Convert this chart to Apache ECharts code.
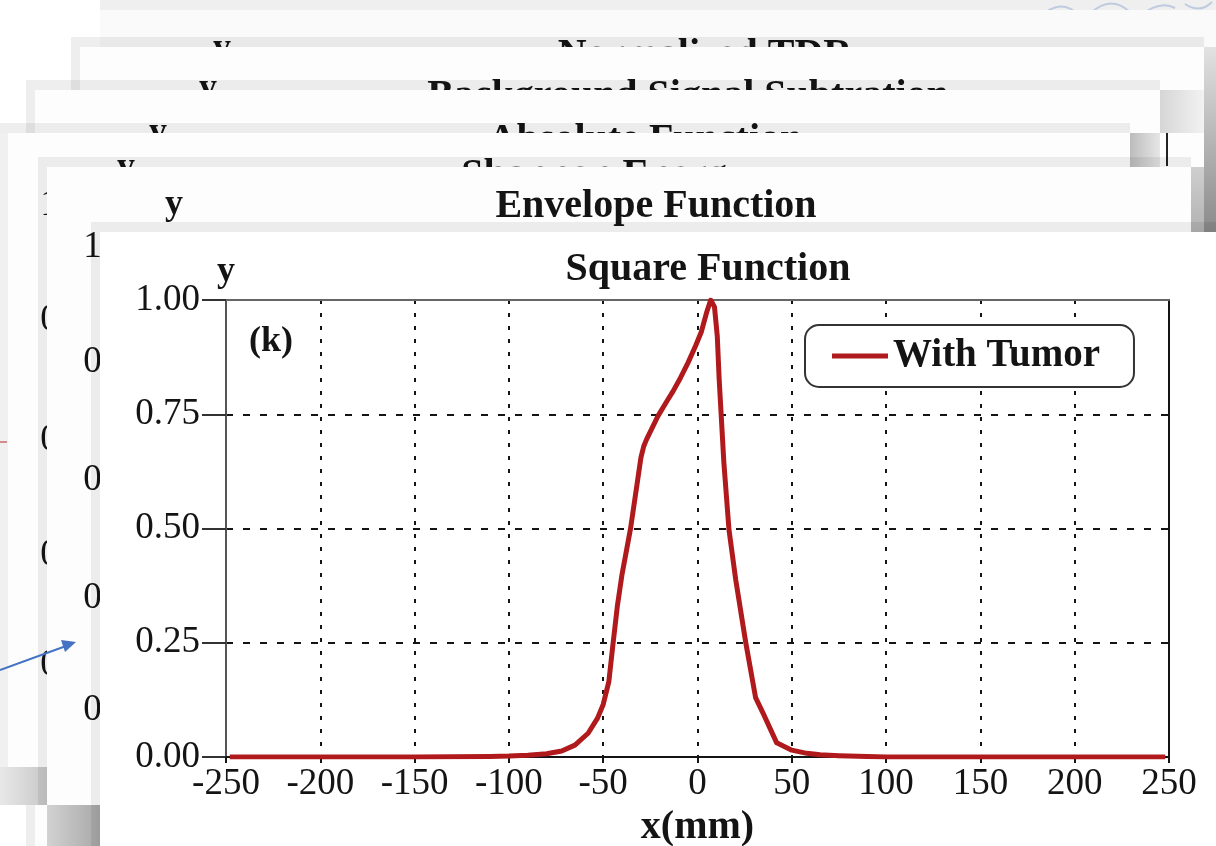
<!DOCTYPE html>
<html>
<head>
<meta charset="utf-8">
<script src="https://cdn.jsdelivr.net/npm/echarts@6/dist/echarts.min.js"></script>
<style>
  html, body { margin: 0; padding: 0; background: #ffffff; }
  #chart { width: 1216px; height: 846px; }
</style>
</head>
<body>
<div id="chart"></div>
<script>
// ---- data ----
const chartTitle = 'Square Function';
const panelTag = '(k)';
const seriesName = 'With Tumor';
const xAxisName = 'x(mm)';
const yAxisName = 'y';
const xTickLabels = ['-250', '-200', '-150', '-100', '-50', '0', '50', '100', '150', '200', '250'];
const yTickLabels = ['0.00', '0.25', '0.50', '0.75', '1.00'];

// position along the scan (mm)
const xValues = [
  -248, -200, -150, -110, -100, -90, -80, -72, -65, -58, -53, -50, -47, -45,
  -42.5, -40, -35.5, -31.7, -30, -28.5, -27, -21, -16, -13, -9, -5, -1, 2, 5,
  7, 9, 10.5, 11.5, 14, 16.7, 20.3, 25.6, 30.8, 35, 42, 50, 58, 65, 75, 90,
  100, 150, 200, 248
];
// squared, normalised response
const yValues = [
  0, 0, 0, 0.001, 0.002, 0.004, 0.007, 0.013, 0.026, 0.052, 0.085, 0.115, 0.165, 0.24,
  0.33, 0.4, 0.5, 0.607, 0.655, 0.68, 0.695, 0.746, 0.78, 0.8, 0.83, 0.863, 0.9, 0.93, 0.975,
  1.0, 0.985, 0.92, 0.826, 0.643, 0.497, 0.387, 0.25, 0.13, 0.094, 0.031, 0.015, 0.008, 0.005, 0.003, 0.001,
  0, 0, 0, 0
];

// titles of the slides stacked behind the plot
const stackedTitles = ['Normalized TDR', 'Background Signal Subtration', 'Absolute Function', 'Shannon Energy', 'Envelope Function'];
const stackedTickLabels = ['1.00', '0.75', '0.50', '0.25', '0.00'];

// ---- styling / layout ----
const SERIF = "'Liberation Serif', 'Times New Roman', serif";
const INK = '#141414';
const RED = '#b01a1c';
const SHADE = 'rgba(0,0,0,0.065)';

// stacked slide frames (back to front)
const slides = [
  { x: 100, y: 10,  r: 1216, b: 846, fill: '#fafafa', tx: 705, ty: 56,  yx: 222, yy: 49 },
  { x: 80,  y: 47,  r: 1204, b: 846, fill: '#fdfdfd', tx: 688, ty: 97,  yx: 208, yy: 89 },
  { x: 35,  y: 90,  r: 1160, b: 846, fill: '#fdfdfd', tx: 645, ty: 141, yx: 158, yy: 133 },
  { x: 8,   y: 133, r: 1130, b: 767, fill: '#fdfdfd', tx: 604, ty: 176, yx: 126, yy: 168,
    labelRight: 105, labelYs: [205, 320, 440, 555, 665] },
  { x: 47,  y: 167, r: 1191, b: 805, fill: '#fdfdfd', tx: 656, ty: 207, yx: 174, yy: 205,
    labelRight: 148, labelYs: [247, 362, 480, 598, 710] }
];

const elements = [];
let zc = 1;
function add(el) { el.z = zc; zc += 0.05; elements.push(el); }
function rect(x, y, w, h, fill) {
  add({ type: 'rect', shape: { x: x, y: y, width: w, height: h }, style: { fill: fill }, silent: true });
}
function grad(x, y, w, h, horizontal, c1, c2) {
  rect(x, y, w, h, {
    type: 'linear', x: 0, y: 0, x2: horizontal ? 1 : 0, y2: horizontal ? 0 : 1,
    colorStops: [{ offset: 0, color: c1 }, { offset: 1, color: c2 }]
  });
}
function text(str, x, y, font, align, fill) {
  add({ type: 'text', x: x, y: y, silent: true,
        style: { text: str, font: font, fill: fill || INK, align: align || 'center', verticalAlign: 'middle' } });
}
function bands(p) {
  rect(p.x - 9, p.y - 10, p.r - p.x + 9, 10, SHADE);
  rect(p.x - 9, p.y, 9, p.b - p.y, SHADE);
}

// strip above the back slide, with a faint stamp
rect(100, 0, 1116, 10, '#efefef');
[[1040, 18, 1060, -4, 1080, 16], [1090, 14, 1110, -6, 1130, 12], [1140, 16, 1160, 0, 1175, 8], [1185, 4, 1200, 14, 1212, 2]]
  .forEach(function (c) {
    add({ type: 'bezierCurve', silent: true,
          shape: { x1: c[0], y1: c[1], cpx1: c[2], cpy1: c[3], x2: c[4], y2: c[5] },
          style: { stroke: 'rgba(80,120,190,0.3)', lineWidth: 2, fill: null } });
  });

slides.forEach(function (p, i) {
  if (i > 0) bands(p);
  rect(p.x, p.y, p.r - p.x, p.b - p.y, p.fill);
  text(stackedTitles[i], p.tx, p.ty, 'bold 40px ' + SERIF, 'center');
  text('y', p.yx, p.yy, 'bold 36px ' + SERIF, 'center');
  if (p.labelYs) {
    p.labelYs.forEach(function (ly, k) {
      text(stackedTickLabels[k], p.labelRight, ly, '37px ' + SERIF, 'right');
    });
  }
  if (i === 1) {
    // shadow column on the right of the second slide, and its plot frame corner
    grad(1204, 47, 12, 185, false, '#e2e2e2', '#8a8a8a');
    add({ type: 'polyline', silent: true, shape: { points: [[1160, 128], [1167, 128], [1167, 166]] },
          style: { stroke: '#222', lineWidth: 2, fill: null } });
  }
  if (i === 2) {
    grad(1160, 90, 44, 43, true, '#d6d6d6', '#f2f2f2');
  }
  if (i === 3) {
    grad(1130, 133, 30, 34, true, '#bcbcbc', '#e6e6e6');
    grad(0, 767, 47, 38, true, '#e8e8e8', '#c8c8c8');
    rect(0, 133, 8, 634, '#f0f0f0');
    add({ type: 'line', silent: true, shape: { x1: 0, y1: 442, x2: 7, y2: 442 },
          style: { stroke: 'rgba(176,40,40,0.5)', lineWidth: 2 } });
  }
  if (i === 4) {
    grad(1191, 167, 13, 65, false, '#cfcfcf', '#b2b2b2');
    grad(47, 805, 53, 41, true, '#d2d2d2', '#a8a8a8');
  }
});

// front slide that carries the plot
const front = { x: 100, y: 232, r: 1216, b: 846 };
bands(front);
rect(front.x, front.y, front.r - front.x, front.b - front.y, '#ffffff');

// pointer arrow
add({ type: 'line', silent: true, shape: { x1: 0, y1: 670, x2: 66, y2: 646 },
      style: { stroke: '#4472c4', lineWidth: 2 } });
add({ type: 'polygon', silent: true, shape: { points: [[76, 642], [61, 640], [65, 652]] },
      style: { fill: '#4472c4' } });

// panel tag inside the plot
text(panelTag, 271, 342, 'bold 36px ' + SERIF, 'center');

const chart = echarts.init(document.getElementById('chart'), null, { renderer: 'canvas' });

chart.setOption({
  backgroundColor: '#ffffff',
  animation: false,
  graphic: { elements: elements },
  title: {
    text: chartTitle,
    left: 703,
    top: 245,
    textAlign: 'center',
    z: 60,
    textStyle: { fontFamily: SERIF, fontWeight: 'bold', fontSize: 40, color: INK }
  },
  legend: {
    data: [{ name: seriesName, icon: 'rect' }],
    left: 805,
    top: 325,
    z: 60,
    itemWidth: 56,
    itemHeight: 5,
    padding: [11, 34, 11, 27],
    backgroundColor: '#ffffff',
    borderColor: '#333333',
    borderWidth: 2,
    borderRadius: 14,
    textStyle: { fontFamily: SERIF, fontWeight: 'bold', fontSize: 39, color: INK, lineHeight: 40 }
  },
  grid: { left: 226, right: 47, top: 300, bottom: 89, containLabel: false, outerBoundsMode: 'none' },
  xAxis: [
    {
      type: 'value', position: 'bottom', min: -250, max: 250, interval: 50, z: 50,
      name: xAxisName, nameLocation: 'middle', nameGap: 50,
      nameTextStyle: { fontFamily: SERIF, fontWeight: 'bold', fontSize: 40, color: INK },
      axisLine: { show: true, onZero: false, lineStyle: { color: INK, width: 2 } },
      axisTick: { show: true, length: 6, lineStyle: { color: INK, width: 2 } },
      axisLabel: {
        show: true, margin: 9, showMinLabel: true, showMaxLabel: true,
        fontFamily: SERIF, fontSize: 37, color: INK,
        formatter: function (v) { return xTickLabels[Math.round((v + 250) / 50)]; }
      },
      splitLine: { show: true, showMinLine: false, showMaxLine: false,
                   lineStyle: { color: INK, width: 2, type: [4, 9] } }
    },
    {
      type: 'value', position: 'top', min: -250, max: 250, interval: 50, z: 50,
      axisLine: { show: true, onZero: false, lineStyle: { color: '#666666', width: 2 } },
      axisTick: { show: false }, axisLabel: { show: false }, splitLine: { show: false }
    }
  ],
  yAxis: [
    {
      type: 'value', position: 'left', min: 0, max: 1, interval: 0.25, z: 50,
      name: yAxisName, nameLocation: 'end', nameGap: 10,
      nameTextStyle: { fontFamily: SERIF, fontWeight: 'bold', fontSize: 36, color: INK, align: 'center' },
      axisLine: { show: true, onZero: false, lineStyle: { color: '#555555', width: 2 } },
      axisTick: { show: true, length: 24, lineStyle: { color: '#333333', width: 2 } },
      axisLabel: {
        show: true, margin: 26, showMinLabel: true, showMaxLabel: true,
        fontFamily: SERIF, fontSize: 37, color: INK,
        formatter: function (v) { return yTickLabels[Math.round(v / 0.25)]; }
      },
      splitLine: { show: true, showMinLine: false, showMaxLine: false,
                   lineStyle: { color: INK, width: 2, type: [7, 10] } }
    },
    {
      type: 'value', position: 'right', min: 0, max: 1, interval: 0.25, z: 50,
      axisLine: { show: true, onZero: false, lineStyle: { color: INK, width: 2 } },
      axisTick: { show: false }, axisLabel: { show: false }, splitLine: { show: false }
    }
  ],
  series: [
    {
      name: seriesName,
      type: 'line',
      xAxisIndex: 0,
      yAxisIndex: 0,
      z: 60,
      showSymbol: false,
      symbol: 'none',
      smooth: false,
      itemStyle: { color: RED },
      lineStyle: { color: RED, width: 5, join: 'round' },
      data: xValues.map(function (x, i) { return [x, yValues[i]]; })
    }
  ]
});
</script>
</body>
</html>
